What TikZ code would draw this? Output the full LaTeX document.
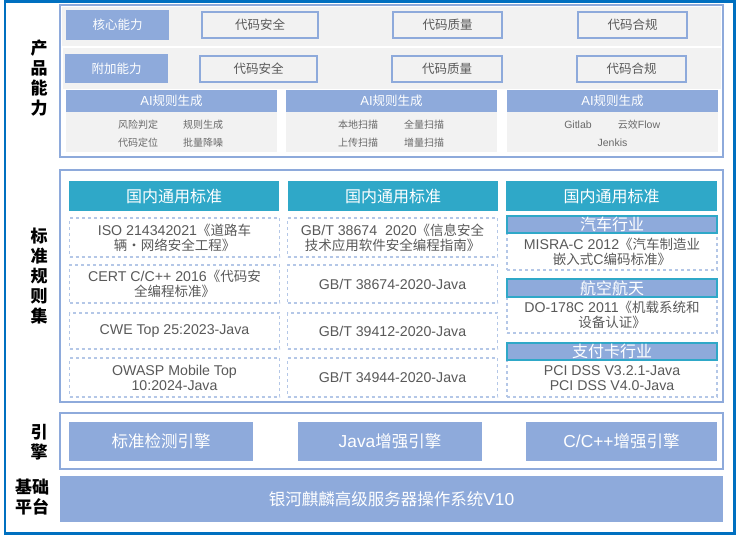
\documentclass[tikz,border=0pt]{standalone}
\usepackage{fontspec}
\setmainfont{Liberation Sans}[Scale=1.05]
\newfontfamily\cjkfont{Noto Sans CJK SC}
\usepackage{tikz}
\usetikzlibrary{positioning}
\usepackage{xcolor}
% CJK text in Noto, Latin text in Liberation Sans
\XeTeXinterchartokenstate=1
\newXeTeXintercharclass\cjkclass
\makeatletter
\count@="3000
\loop\ifnum\count@<"A000 \XeTeXcharclass\count@=\cjkclass \advance\count@ by 1 \repeat
\count@="FF00
\loop\ifnum\count@<"FFF0 \XeTeXcharclass\count@=\cjkclass \advance\count@ by 1 \repeat
\makeatother
\XeTeXcharclass"00B7=\cjkclass
\XeTeXinterchartoks 0 \cjkclass = {\cjkfont}
\XeTeXinterchartoks 4095 \cjkclass = {\cjkfont}
\XeTeXinterchartoks \cjkclass 0 = {\rmfamily}
\definecolor{frameblue}{RGB}{0,112,192}
\definecolor{capblue}{RGB}{142,170,219}
\definecolor{dashblue}{RGB}{180,199,231}
\definecolor{stdteal}{RGB}{47,168,200}
\definecolor{panelgray}{RGB}{242,242,242}
\definecolor{textgray}{RGB}{89,89,89}
\definecolor{smallgray}{RGB}{105,105,105}
\tikzstyle{secbox} = [draw=capblue, line width=2pt, fill=white, inner sep=0pt]
\tikzstyle{rowfill} = [fill=panelgray, inner sep=0pt]
\tikzstyle{capbox} = [fill=capblue, text=white, inner sep=0pt, font=\fontsize{12.5}{14}\selectfont]
\tikzstyle{itembox} = [draw=capblue, line width=1.5pt, text=textgray, inner sep=0pt, font=\fontsize{12.5}{14}\selectfont]
\tikzstyle{smalltext} = [text=smallgray, inner sep=0pt, font=\fontsize{10}{12}\selectfont]
\tikzstyle{stdhead} = [fill=stdteal, text=white, inner sep=0pt, font=\fontsize{16}{18}\selectfont]
\tikzstyle{stdbox} = [draw=dashblue, dashed, line width=1.2pt, text=textgray, align=center, inner sep=0pt, font=\fontsize{13.5}{15}\selectfont]
\tikzstyle{indhead} = [fill=capblue, draw=stdteal, line width=1.2pt, text=white, inner sep=0pt, font=\fontsize{16}{17}\selectfont]
\tikzstyle{engbox} = [fill=capblue, text=white, inner sep=0pt, font=\fontsize{16.5}{18}\selectfont]
\tikzstyle{sidelabel} = [align=center, inner sep=0pt, font=\bfseries\fontsize{17}{20}\selectfont]

\begin{document}
\begin{tikzpicture}[x=1pt, y=-1pt]
    \useasboundingbox (0,0) rectangle (738,535);

    % Outer frame
    \draw[frameblue, line width=2.5pt] (5,1.5) rectangle (734.5,533.5);

    % Product capability
    \node[secbox, minimum width=662.5pt, minimum height=151.5pt] (capsec) at (391.25,80.75) {};
    \node[rowfill, minimum width=659pt, minimum height=39pt] (corerow) at (391.5,26.5) {};
    \node[rowfill, minimum width=658pt, minimum height=41pt] (addrow) at (392,68.5) {};
    \node[sidelabel] (capname) at (39,78.5) {产\\品\\能\\力};

    \node[capbox, minimum width=103pt, minimum height=30pt] (core) at (117.5,25) {核心能力};
    \node[itembox, minimum width=116pt, minimum height=26pt] (coresec) at (260,25) {代码安全};
    \node[itembox, minimum width=109pt, minimum height=26pt] (corequal) at (447.5,25) {代码质量};
    \node[itembox, minimum width=109pt, minimum height=26pt] (corecomp) at (632.5,25) {代码合规};

    \node[capbox, minimum width=103pt, minimum height=29pt] (add) at (116.5,68.5) {附加能力};
    \node[itembox, minimum width=117pt, minimum height=26pt] (addsec) at (258.5,69) {代码安全};
    \node[itembox, minimum width=110pt, minimum height=26pt] (addqual) at (447,69) {代码质量};
    \node[itembox, minimum width=109pt, minimum height=26pt] (addcomp) at (631.5,69) {代码合规};

    % AI panels
    \node[capbox, minimum width=211pt, minimum height=22pt] (aione) at (171.5,101) {AI规则生成};
    \node[rowfill, minimum width=211pt, minimum height=40pt] (aionebody) at (171.5,132) {};
    \node[capbox, minimum width=211pt, minimum height=22pt] (aitwo) at (391.5,101) {AI规则生成};
    \node[rowfill, minimum width=211pt, minimum height=40pt] (aitwobody) at (391.5,132) {};
    \node[capbox, minimum width=211pt, minimum height=22pt] (aithree) at (612.5,101) {AI规则生成};
    \node[rowfill, minimum width=211pt, minimum height=40pt] (aithreebody) at (612.5,132) {};

    \node[smalltext] (risk) at (138,125) {风险判定};
    \node[smalltext] (rulegen) at (203,125) {规则生成};
    \node[smalltext] (locate) at (138,143) {代码定位};
    \node[smalltext] (denoise) at (203,143) {批量降噪};
    \node[smalltext] (local) at (358,125) {本地扫描};
    \node[smalltext] (full) at (424,125) {全量扫描};
    \node[smalltext] (upload) at (358,143) {上传扫描};
    \node[smalltext] (incr) at (424,143) {增量扫描};
    \node[smalltext] (gitlab) at (578,125) {Gitlab};
    \node[smalltext] (flow) at (639,125) {云效Flow};
    \node[smalltext] (jenkis) at (612.5,143) {Jenkis};

    % Standard rule sets
    \node[secbox, minimum width=662.5pt, minimum height=232pt] (stdsec) at (391.25,286) {};
    \node[sidelabel] (stdname) at (39,276) {标\\准\\规\\则\\集};

    \node[stdhead, minimum width=210pt, minimum height=30pt] (headone) at (174,196) {国内通用标准};
    \node[stdhead, minimum width=210pt, minimum height=30pt] (headtwo) at (393,196) {国内通用标准};
    \node[stdhead, minimum width=211pt, minimum height=30pt] (headthree) at (611.5,196) {国内通用标准};

    \node[stdbox, minimum width=210pt, minimum height=39pt] (iso) at (174.5,237.5) {ISO 214342021《道路车\\辆·网络安全工程》};
    \node[stdbox, minimum width=210pt, minimum height=38pt] (cert) at (174.5,284) {CERT C/C++ 2016《代码安\\全编程标准》};
    \node[stdbox, minimum width=210pt, minimum height=36pt] (cwe) at (174.5,331) {CWE Top 25:2023-Java};
    \node[stdbox, minimum width=210pt, minimum height=39pt] (owasp) at (174.5,377.5) {OWASP Mobile Top\\10:2024-Java};

    \node[stdbox, minimum width=210pt, minimum height=39pt] (gbguide) at (392.5,237.5) {GB/T 38674\ \ 2020《信息安全\\技术应用软件安全编程指南》};
    \node[stdbox, minimum width=210pt, minimum height=38pt] (gbone) at (392.5,284) {GB/T 38674-2020-Java};
    \node[stdbox, minimum width=210pt, minimum height=36pt] (gbtwo) at (392.5,331) {GB/T 39412-2020-Java};
    \node[stdbox, minimum width=210pt, minimum height=39pt] (gbthree) at (392.5,377.5) {GB/T 34944-2020-Java};

    \node[stdbox, minimum width=210pt, minimum height=37pt] (misra) at (612,251.5) {MISRA-C 2012《汽车制造业\\嵌入式C编码标准》};
    \node[indhead, minimum width=210pt, minimum height=17pt] (auto) at (612,224.5) {汽车行业};
    \node[stdbox, minimum width=210pt, minimum height=36pt] (dosafe) at (612,315) {DO-178C 2011《机载系统和\\设备认证》};
    \node[indhead, minimum width=210pt, minimum height=18pt] (aero) at (612,288) {航空航天};
    \node[stdbox, minimum width=210pt, minimum height=37pt] (pci) at (612,378.5) {PCI DSS V3.2.1-Java\\PCI DSS V4.0-Java};
    \node[indhead, minimum width=210pt, minimum height=17pt] (card) at (612,351.5) {支付卡行业};

    % Engines
    \node[secbox, minimum width=662.5pt, minimum height=56pt] (engsec) at (391.25,441) {};
    \node[sidelabel] (engname) at (39,442) {引\\擎};
    \node[engbox, minimum width=184pt, minimum height=39pt] (stdeng) at (161,441.5) {标准检测引擎};
    \node[engbox, minimum width=184pt, minimum height=39pt] (javaeng) at (390,441.5) {Java增强引擎};
    \node[engbox, minimum width=191pt, minimum height=39pt] (cppeng) at (621.5,441.5) {C/C++增强引擎};

    % Base platform
    \node[sidelabel] (basename) at (32,497) {基础\\平台};
    \node[engbox, minimum width=663pt, minimum height=46pt] (os) at (391.5,499) {银河麒麟高级服务器操作系统V10};
\end{tikzpicture}
\end{document}
